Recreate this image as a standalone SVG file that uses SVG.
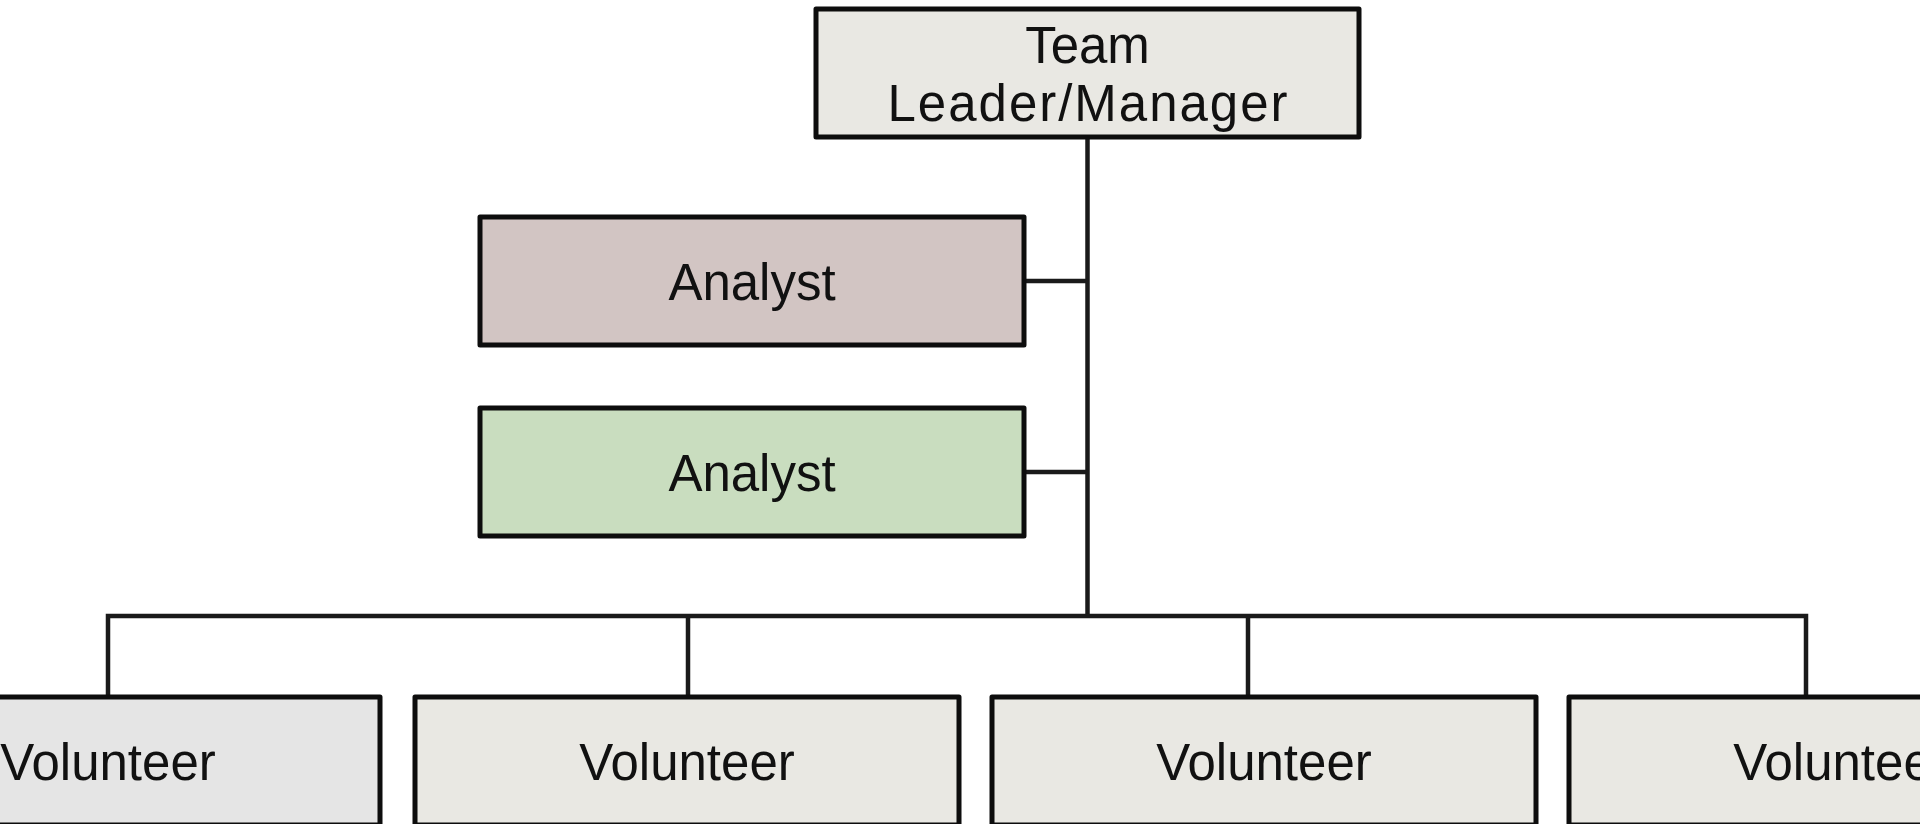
<svg xmlns="http://www.w3.org/2000/svg" width="1920" height="824" viewBox="0 0 1920 824">
<style>
.box{stroke:#0d0d0d;stroke-width:5;stroke-linejoin:round}
.lbl{font-family:"Liberation Sans",Arial,sans-serif;font-size:51px;fill:#111;text-anchor:middle}
.con{stroke:#1a1a1a;stroke-width:4.5;fill:none}
</style>
<rect width="1920" height="824" fill="#fff"/>
<g id="connectors">
<line class="con" x1="1087.5" y1="137" x2="1087.5" y2="618"/>
<line class="con" x1="1024" y1="281" x2="1087.5" y2="281"/>
<line class="con" x1="1024" y1="472" x2="1087.5" y2="472"/>
<polyline class="con" points="108,697 108,616 1806,616 1806,697"/>
<line class="con" x1="688" y1="616" x2="688" y2="697"/>
<line class="con" x1="1248" y1="616" x2="1248" y2="697"/>
</g>
<g id="leader">
<rect class="box" x="816" y="9" width="543" height="128" fill="#e9e8e3"/>
<text class="lbl" x="1087.5" y="63">Team</text>
<text class="lbl" x="1087.5" y="121" textLength="400" lengthAdjust="spacing">Leader/Manager</text>
</g>
<g id="analyst1">
<rect class="box" x="480" y="217" width="544" height="128" fill="#d2c5c3"/>
<text class="lbl" x="752" y="300">Analyst</text>
</g>
<g id="analyst2">
<rect class="box" x="480" y="408" width="544" height="128" fill="#c9ddbf"/>
<text class="lbl" x="752" y="491">Analyst</text>
</g>
<g id="volunteer1">
<rect class="box" x="-164" y="697" width="544" height="128" fill="#e5e5e5"/>
<text class="lbl" x="108" y="780">Volunteer</text>
</g>
<g id="volunteer2">
<rect class="box" x="415" y="697" width="544" height="128" fill="#e9e8e3"/>
<text class="lbl" x="687" y="780">Volunteer</text>
</g>
<g id="volunteer3">
<rect class="box" x="992" y="697" width="544" height="128" fill="#e9e8e3"/>
<text class="lbl" x="1264" y="780">Volunteer</text>
</g>
<g id="volunteer4">
<rect class="box" x="1569" y="697" width="544" height="128" fill="#e9e8e3"/>
<text class="lbl" x="1841" y="780">Volunteer</text>
</g>
</svg>
